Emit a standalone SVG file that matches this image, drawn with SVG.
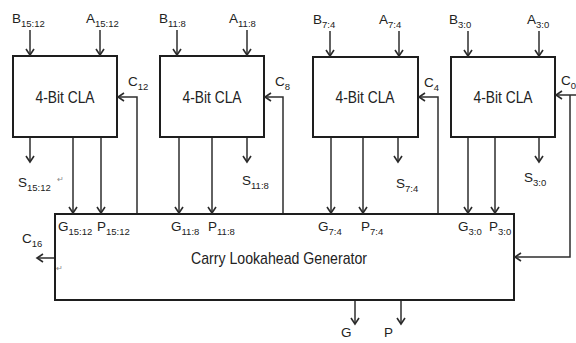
<svg xmlns="http://www.w3.org/2000/svg" width="576" height="343" viewBox="0 0 576 343">
<defs>
<marker id="ah" markerUnits="userSpaceOnUse" markerWidth="12" markerHeight="12" viewBox="-8 -6 10 12" refX="0" refY="0" orient="auto">
<path d="M-6,-4 L0,0 L-6,4" fill="none" stroke="#2a2a2a" stroke-width="1.6"/>
</marker>
<style>
.box{fill:#fff;stroke:#1e1e1e;stroke-width:2}
.w{fill:none;stroke:#2e2e2e;stroke-width:1.5}
.a{fill:none;stroke:#2e2e2e;stroke-width:1.5;marker-end:url(#ah)}
text{font-family:"Liberation Sans",Arial,sans-serif;fill:#222}
.l{font-size:13.5px}
.s{font-size:9.5px}
.t{font-size:17px}
.m{font-size:8px;fill:#888}
</style>
</defs>
<rect width="576" height="343" fill="#fff"/>

<g id="cla15">
<rect class="box" x="13" y="56" width="104" height="81"/>
<text class="t" x="65" y="103" text-anchor="middle" textLength="59" lengthAdjust="spacingAndGlyphs">4-Bit CLA</text>
</g>
<g id="cla11">
<rect class="box" x="160" y="56" width="104" height="81"/>
<text class="t" x="212" y="103" text-anchor="middle" textLength="59" lengthAdjust="spacingAndGlyphs">4-Bit CLA</text>
</g>
<g id="cla7">
<rect class="box" x="313" y="57" width="105" height="80"/>
<text class="t" x="365" y="103" text-anchor="middle" textLength="59" lengthAdjust="spacingAndGlyphs">4-Bit CLA</text>
</g>
<g id="cla3">
<rect class="box" x="451" y="57" width="104" height="80"/>
<text class="t" x="503" y="103" text-anchor="middle" textLength="59" lengthAdjust="spacingAndGlyphs">4-Bit CLA</text>
</g>
<g id="clg">
<rect class="box" x="55" y="214" width="459" height="86"/>
<text class="t" x="279" y="264" text-anchor="middle" textLength="176" lengthAdjust="spacingAndGlyphs">Carry Lookahead Generator</text>
<text class="l" x="58" y="231">G<tspan class="s" dy="4">15:12</tspan></text>
<text class="l" x="97" y="231">P<tspan class="s" dy="4">15:12</tspan></text>
<text class="l" x="171" y="231">G<tspan class="s" dy="4">11:8</tspan></text>
<text class="l" x="208" y="231">P<tspan class="s" dy="4">11:8</tspan></text>
<text class="l" x="318" y="231">G<tspan class="s" dy="4">7:4</tspan></text>
<text class="l" x="361" y="231">P<tspan class="s" dy="4">7:4</tspan></text>
<text class="l" x="458" y="231">G<tspan class="s" dy="4">3:0</tspan></text>
<text class="l" x="489" y="231">P<tspan class="s" dy="4">3:0</tspan></text>
<text class="m" x="56" y="271">↵</text>
</g>

<g id="connectors">
<line class="a" x1="30" y1="30" x2="30" y2="55"/>
<line class="a" x1="100" y1="30" x2="100" y2="55"/>
<line class="a" x1="177" y1="30" x2="177" y2="55"/>
<line class="a" x1="247" y1="30" x2="247" y2="55"/>
<line class="a" x1="330" y1="31" x2="330" y2="56"/>
<line class="a" x1="399" y1="31" x2="399" y2="56"/>
<line class="a" x1="468" y1="31" x2="468" y2="56"/>
<line class="a" x1="539" y1="31" x2="539" y2="56"/>
<polyline class="a" points="137,213 137,97 118,97"/>
<polyline class="a" points="283,213 283,97 265,97"/>
<polyline class="a" points="438,213 438,97 419,97"/>
<line class="a" x1="576" y1="95" x2="556" y2="95"/>
<polyline class="a" points="570,95 570,257 515,257"/>
<line class="a" x1="30" y1="138" x2="30" y2="162"/>
<line class="a" x1="247" y1="138" x2="247" y2="162"/>
<line class="a" x1="398" y1="138" x2="398" y2="162"/>
<line class="a" x1="539" y1="138" x2="539" y2="162"/>
<line class="a" x1="73" y1="138" x2="73" y2="213"/>
<line class="a" x1="101" y1="138" x2="101" y2="213"/>
<line class="a" x1="179" y1="138" x2="179" y2="213"/>
<line class="a" x1="212" y1="138" x2="212" y2="213"/>
<line class="a" x1="331" y1="138" x2="331" y2="213"/>
<line class="a" x1="363" y1="138" x2="363" y2="213"/>
<line class="a" x1="468" y1="138" x2="468" y2="213"/>
<line class="a" x1="495" y1="138" x2="495" y2="213"/>
<line class="a" x1="54" y1="258" x2="37" y2="258"/>
<line class="a" x1="355" y1="301" x2="355" y2="324"/>
<line class="a" x1="401" y1="301" x2="401" y2="324"/>
</g>

<g id="labels">
<text class="l" x="12" y="23">B<tspan class="s" dy="4">15:12</tspan></text>
<text class="l" x="86" y="23">A<tspan class="s" dy="4">15:12</tspan></text>
<text class="l" x="159" y="23">B<tspan class="s" dy="4">11:8</tspan></text>
<text class="l" x="229" y="23">A<tspan class="s" dy="4">11:8</tspan></text>
<text class="l" x="313" y="24">B<tspan class="s" dy="4">7:4</tspan></text>
<text class="l" x="379" y="24">A<tspan class="s" dy="4">7:4</tspan></text>
<text class="l" x="449" y="24">B<tspan class="s" dy="4">3:0</tspan></text>
<text class="l" x="527" y="24">A<tspan class="s" dy="4">3:0</tspan></text>
<text class="l" x="128" y="86">C<tspan class="s" dy="4">12</tspan></text>
<text class="l" x="275" y="86">C<tspan class="s" dy="4">8</tspan></text>
<text class="l" x="424" y="87">C<tspan class="s" dy="4">4</tspan></text>
<text class="l" x="561" y="85">C<tspan class="s" dy="4">0</tspan></text>
<text class="l" x="18" y="187">S<tspan class="s" dy="4">15:12</tspan></text>
<text class="m" x="57" y="182">↵</text>
<text class="l" x="242" y="185">S<tspan class="s" dy="4">11:8</tspan></text>
<text class="l" x="396" y="188">S<tspan class="s" dy="4">7:4</tspan></text>
<text class="l" x="524" y="182">S<tspan class="s" dy="4">3:0</tspan></text>
<text class="l" x="22" y="243">C<tspan class="s" dy="4">16</tspan></text>
<text class="l" x="341" y="337">G</text>
<text class="l" x="384" y="337">P</text>
</g>
</svg>
